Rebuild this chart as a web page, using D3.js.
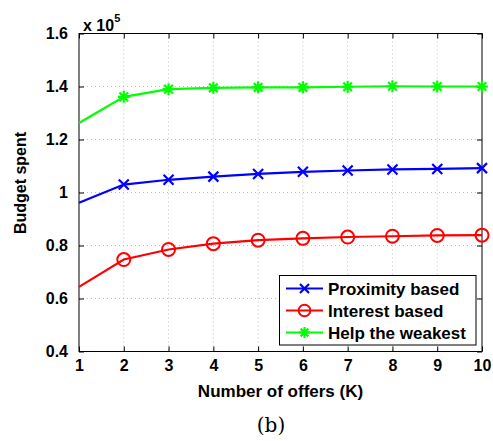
<!DOCTYPE html>
<html><head><meta charset="utf-8">
<script src="https://cdn.jsdelivr.net/npm/d3@7"></script>
<style>body{margin:0;background:#fff}svg{display:block}</style>
</head><body>
<script>
const offers = [1,2,3,4,5,6,7,8,9,10];
const proximity = [0.961,1.030,1.048,1.060,1.070,1.078,1.083,1.087,1.089,1.092];
const interest = [0.644,0.747,0.785,0.807,0.820,0.827,0.832,0.835,0.838,0.839];
const weakest = [1.262,1.361,1.390,1.395,1.397,1.397,1.399,1.401,1.400,1.400];
const yTicks = [0.4,0.6,0.8,1,1.2,1.4,1.6];
const xTicks = [1,2,3,4,5,6,7,8,9,10];
const seriesNames = ["Proximity based","Interest based","Help the weakest"];
const seriesColors = ["#0000ff","#ff0000","#00ff00"];
const seriesMarkers = ["x","o","*"];
const seriesData = [proximity, interest, weakest];

const W=493,H=441;
const m={l:79,r:482,t:33.5,b:351.5};
const svg=d3.select("body").append("svg").attr("width",W).attr("height",H);
const x=d3.scaleLinear().domain([1,10]).range([m.l,m.r]);
const y=d3.scaleLinear().domain([0.4,1.6]).range([m.b,m.t]);
const font="Liberation Sans, Arial, Helvetica, sans-serif";

// grid
const g=svg.append("g");
g.selectAll(".gx").data(xTicks.slice(1,-1)).enter().append("line")
 .attr("x1",d=>x(d)).attr("x2",d=>x(d)).attr("y1",m.t).attr("y2",m.b)
 .attr("stroke","#bbbbbb").attr("stroke-width",1).attr("stroke-dasharray","1,3");
g.selectAll(".gy").data(yTicks.slice(1,-1)).enter().append("line")
 .attr("y1",d=>y(d)).attr("y2",d=>y(d)).attr("x1",m.l).attr("x2",m.r)
 .attr("stroke","#bbbbbb").attr("stroke-width",1).attr("stroke-dasharray","1,3");

// axes (ticks inward, all four sides)
const tl=5;
const axB=svg.append("g").attr("transform",`translate(0,${m.b})`)
 .call(d3.axisBottom(x).tickValues(xTicks).tickSizeInner(-tl).tickSizeOuter(0).tickPadding(8).tickFormat(d3.format("d")));
const axT=svg.append("g").attr("transform",`translate(0,${m.t})`)
 .call(d3.axisTop(x).tickValues(xTicks).tickSizeInner(-tl).tickSizeOuter(0).tickFormat(""));
const axL=svg.append("g").attr("transform",`translate(${m.l},0)`)
 .call(d3.axisLeft(y).tickValues(yTicks).tickSizeInner(-tl).tickSizeOuter(0).tickPadding(11).tickFormat(d=>d===1?"1":d3.format(".1f")(d)));
const axR=svg.append("g").attr("transform",`translate(${m.r},0)`)
 .call(d3.axisRight(y).tickValues(yTicks).tickSizeInner(-tl).tickSizeOuter(0).tickFormat(""));
[axB,axT,axL,axR].forEach(a=>{a.select(".domain").remove();a.selectAll("line").attr("stroke","#000");
 a.selectAll("text").attr("font-family",font).attr("font-weight","bold").attr("font-size","16px").attr("fill","#000");});
svg.append("rect").attr("x",m.l).attr("y",m.t).attr("width",m.r-m.l).attr("height",m.b-m.t)
 .attr("fill","none").attr("stroke","#000").attr("stroke-width",1);

// markers
function drawMarker(sel,type,color,cx,cy,k){
  k=k||1;
  const s=sel.append("g").attr("transform",`translate(${cx},${cy})`);
  if(type==="x"){
    const r=5*k;
    s.append("path").attr("d",`M${-r},${-r}L${r},${r}M${-r},${r}L${r},${-r}`).attr("stroke",color).attr("stroke-width",2.2).attr("fill","none");
  } else if(type==="o"){
    s.append("circle").attr("r",6.5*k).attr("stroke",color).attr("stroke-width",2).attr("fill","none");
  } else {
    const r=6*k;
    const d=`M0,${-r}L0,${r}M${-r},0L${r},0M${-r*0.72},${-r*0.72}L${r*0.72},${r*0.72}M${-r*0.72},${r*0.72}L${r*0.72},${-r*0.72}`;
    s.append("path").attr("d",d).attr("stroke",color).attr("stroke-width",2.2).attr("fill","none");
  }
}
const line=d3.line().x((d,i)=>x(offers[i])).y(d=>y(d));
seriesData.forEach((vals,si)=>{
  svg.append("path").datum(vals).attr("d",line).attr("fill","none").attr("stroke",seriesColors[si]).attr("stroke-width",2.2);
  vals.forEach((v,i)=>{ if(i>0) drawMarker(svg,seriesMarkers[si],seriesColors[si],x(offers[i]),y(v)); });
});

// legend
const lg=svg.append("g");
lg.append("rect").attr("x",279.5).attr("y",275.5).attr("width",196.5).attr("height",69.5).attr("fill","#fff").attr("stroke","#000").attr("stroke-width",1);
seriesNames.forEach((n,i)=>{
  const cy=288.5+i*22;
  lg.append("line").attr("x1",286).attr("x2",323).attr("y1",cy).attr("y2",cy).attr("stroke",seriesColors[i]).attr("stroke-width",2.2);
  drawMarker(lg,seriesMarkers[i],seriesColors[i],304.5,cy,0.9);
  lg.append("text").attr("x",328).attr("y",cy+6.5).text(n).attr("font-family",font).attr("font-weight","bold").attr("font-size","17px");
});

// labels
svg.append("text").attr("x",280.5).attr("y",397).attr("text-anchor","middle").text("Number of offers (K)")
 .attr("font-family",font).attr("font-weight","bold").attr("font-size","17px");
svg.append("text").attr("transform","translate(26,183) rotate(-90)").attr("text-anchor","middle").text("Budget spent")
 .attr("font-family",font).attr("font-weight","bold").attr("font-size","16px");
const sc=svg.append("text").attr("x",83).attr("y",31).attr("font-family",font).attr("font-weight","bold").attr("font-size","16px");
sc.append("tspan").text("x 10");
sc.append("tspan").attr("dy",-9).attr("font-size","11px").text("5");
svg.append("text").attr("x",271).attr("y",432).attr("text-anchor","middle").text("(b)")
 .attr("font-family","DejaVu Serif, Liberation Serif, serif").attr("font-size","20px");
</script>
</body></html>
